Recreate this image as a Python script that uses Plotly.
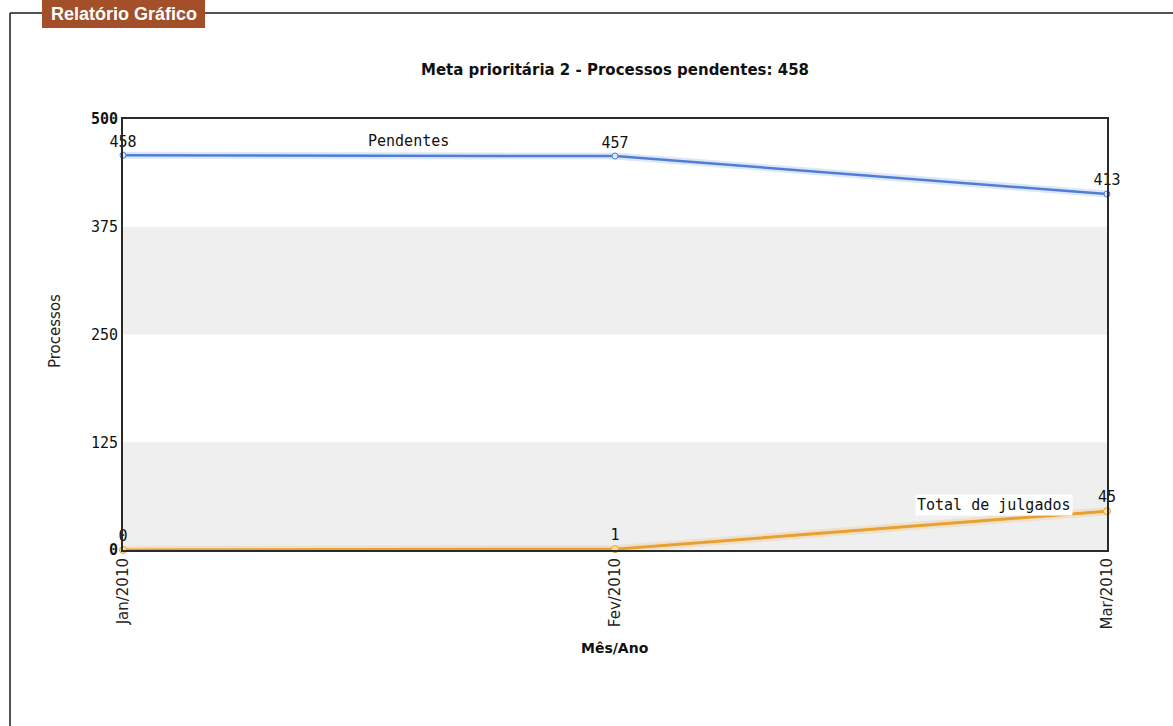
import plotly.graph_objects as go

# Monthly series
meses = ["Jan/2010", "Fev/2010", "Mar/2010"]
pendentes = [458, 457, 413]
julgados = [0, 1, 45]

# Y axis ticks
y_ticks = [0, 125, 250, 375, 500]
y_ticktext = ["<b>0</b>", "125", "250", "375", "<b>500</b>"]

W, H = 1173, 726
L, R, T, B = 123, 66, 119, 176
PW, PH = W - L - R, H - T - B


def px(x):
    return (x - L) / PW


def py(y):
    return (H - B - y) / PH


label_font = dict(family="DejaVu Sans Mono", size=15, color="#111")

fig = go.Figure()

# soft glow under the lines
fig.add_trace(go.Scatter(x=meses, y=pendentes, mode="lines",
                         line=dict(color="rgba(120,160,230,0.25)", width=7),
                         hoverinfo="skip", showlegend=False))
fig.add_trace(go.Scatter(x=meses, y=julgados, mode="lines",
                         line=dict(color="rgba(240,180,90,0.25)", width=8),
                         hoverinfo="skip", showlegend=False))

fig.add_trace(go.Scatter(
    x=meses, y=pendentes, mode="lines+markers+text", name="Pendentes",
    line=dict(color="#4f7fd4", width=2.5),
    marker=dict(size=6, color="#dfe8fa", line=dict(color="#4f7fd4", width=1)),
    text=[str(v) for v in pendentes], textposition="top center",
    textfont=label_font, showlegend=False, cliponaxis=False))

fig.add_trace(go.Scatter(
    x=meses, y=julgados, mode="lines+markers+text", name="Total de julgados",
    line=dict(color="#e8a030", width=3),
    marker=dict(size=7, color="#fbe6a8", line=dict(color="#e8a030", width=1)),
    text=[str(v) for v in julgados], textposition="top center",
    textfont=label_font, showlegend=False, cliponaxis=False))

shapes = []
# alternating horizontal bands
for y0, y1 in [(0, 125), (250, 375)]:
    shapes.append(dict(type="rect", xref="paper", yref="y", x0=0, x1=1, y0=y0, y1=y1,
                       fillcolor="#efefef", line=dict(width=0), layer="below"))

# fieldset border
line_style = dict(color="#1a1a1a", width=1.5)
shapes.append(dict(type="line", xref="paper", yref="paper",
                   x0=px(10), x1=px(10), y0=py(13), y1=py(H), line=line_style))
shapes.append(dict(type="line", xref="paper", yref="paper",
                   x0=px(10), x1=px(42), y0=py(13), y1=py(13), line=line_style))
shapes.append(dict(type="line", xref="paper", yref="paper",
                   x0=px(205), x1=px(W), y0=py(13), y1=py(13), line=line_style))
# fieldset legend box
shapes.append(dict(type="rect", xref="paper", yref="paper",
                   x0=px(42), x1=px(205), y0=py(0), y1=py(28),
                   fillcolor="#a24f2a", line=dict(width=0)))

annotations = [
    dict(text="<b>Relatório Gráfico</b>", xref="paper", yref="paper",
         x=px(123.5), y=py(14), xanchor="center", yanchor="middle", showarrow=False,
         font=dict(family="Liberation Sans", size=18, color="white")),
    dict(text="Pendentes", x=0.58, y=457.6, xref="x", yref="y", showarrow=False,
         yshift=15, font=label_font, bgcolor="white"),
    dict(text="Total de julgados", x=1.77, y=julgados[1] + (julgados[2] - julgados[1]) * 0.77,
         xref="x", yref="y", showarrow=False, yshift=15, font=label_font, bgcolor="white"),
    dict(text="Processos", xref="paper", yref="paper", x=px(55), y=py(331),
         xanchor="center", yanchor="middle", showarrow=False, textangle=-90,
         font=dict(family="DejaVu Sans", size=15, color="#222")),
    dict(text="<b>Mês/Ano</b>", xref="paper", yref="paper", x=px(615), y=py(648),
         xanchor="center", yanchor="middle", showarrow=False,
         font=dict(family="DejaVu Sans", size=14, color="#111")),
]

fig.update_layout(
    width=W, height=H,
    margin=dict(l=L, r=R, t=T, b=B),
    paper_bgcolor="white", plot_bgcolor="white",
    title=dict(text="<b>Meta prioritária 2 - Processos pendentes: 458</b>",
               x=615 / W, xanchor="center", y=1 - 70 / H, yanchor="middle",
               font=dict(family="DejaVu Sans", size=15, color="#111")),
    xaxis=dict(type="category", range=[0, 2], showgrid=False, zeroline=False,
               showline=True, mirror=True, linecolor="#2a2a2a", linewidth=2,
               tickangle=-90, ticks="",
               tickfont=dict(family="DejaVu Sans", size=15, color="#222")),
    yaxis=dict(range=[0, 500], tickvals=y_ticks, ticktext=y_ticktext,
               showgrid=False, zeroline=False, showline=True, mirror=True,
               linecolor="#2a2a2a", linewidth=2, ticks="",
               tickfont=dict(family="DejaVu Sans Mono", size=15, color="#111")),
    shapes=shapes, annotations=annotations,
)

fig.write_html("out.html")
